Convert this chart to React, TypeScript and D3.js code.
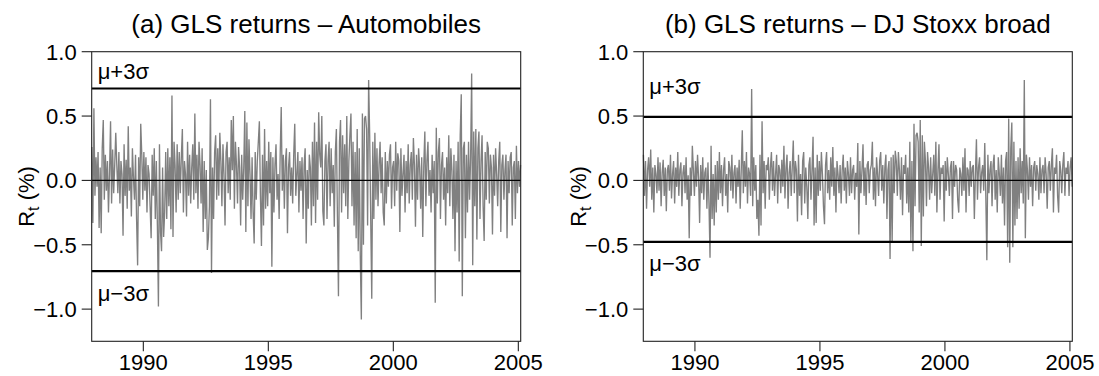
import React from "react";
import * as d3 from "d3";

// GLS returns (%) – Automobiles, semi-monthly readings, one row per year (1988 … 2005)
const autoReturns: number[] = [
  0.26, -0.33, 0.56, -0.12, 0.18, -0.05, 0.22, -0.37, 0.10, -0.41, 0.25, 0.47, -0.15, 0.20, -0.08, 0.15, -0.25, 0.05, 0.46, -0.18, 0.24, -0.10, 0.12, 0.37,
  0.12, -0.10, 0.22, -0.18, 0.15, 0.05, -0.43, 0.28, -0.12, 0.16, -0.22, 0.42, -0.08, 0.10, -0.28, 0.25, 0.02, -0.15, 0.20, -0.30, -0.66, 0.18, -0.20, 0.44,
  0.20, -0.15, 0.22, -0.08, 0.18, -0.25, 0.12, 0.05, -0.20, -0.45, 0.20, -0.12, 0.25, -0.30, 0.15, -0.35, -0.98, 0.28, -0.40, -0.55, 0.10, -0.44, -0.25, 0.22,
  -0.30, 0.25, -0.20, 0.18, -0.38, 0.66, -0.44, 0.30, 0.12, -0.25, 0.28, -0.15, 0.22, -0.10, 0.18, 0.40, -0.25, 0.15, 0.05, -0.28, 0.30, -0.12, 0.20, -0.18,
  0.10, 0.28, -0.15, 0.52, -0.10, 0.20, -0.22, 0.30, 0.12, -0.18, 0.25, -0.40, 0.15, -0.30, 0.08, -0.54, -0.45, -0.20, 0.63, -0.72, 0.10, -0.30, 0.22, 0.35,
  -0.15, 0.25, -0.12, 0.37, 0.15, -0.20, 0.28, 0.05, -0.35, 0.22, 0.30, -0.10, 0.18, -0.15, 0.47, 0.08, 0.50, -0.22, 0.30, 0.12, -0.18, 0.26, 0.10, -0.35,
  0.20, -0.15, 0.10, 0.54, -0.40, 0.45, -0.20, 0.32, 0.05, -0.30, 0.18, -0.25, -0.49, 0.22, -0.15, 0.15, 0.30, 0.46, -0.12, -0.51, 0.20, -0.35, 0.40, -0.22,
  0.15, -0.20, 0.30, -0.10, 0.22, -0.67, 0.18, -0.25, 0.12, 0.28, -0.15, 0.05, -0.30, 0.20, 0.57, -0.08, 0.20, -0.22, 0.15, 0.25, -0.41, 0.10, 0.22, -0.12,
  0.10, -0.18, 0.20, 0.44, -0.12, 0.05, 0.22, -0.25, 0.15, -0.08, 0.18, -0.30, 0.12, 0.25, -0.49, 0.08, -0.22, 0.20, 0.10, -0.35, 0.30, -0.20, 0.45, -0.33,
  0.30, -0.15, 0.53, 0.20, 0.10, 0.50, -0.24, -0.35, 0.15, 0.28, -0.30, 0.15, 0.30, -0.20, 0.25, -0.10, 0.12, -0.36, 0.22, 0.40, -0.28, -0.90, 0.30, 0.47,
  -0.25, 0.35, -0.10, 0.28, -0.20, 0.50, -0.30, 0.15, 0.35, 0.52, -0.20, 0.30, -0.35, 0.22, -0.45, 0.40, -0.55, 0.25, -0.60, -1.08, 0.52, -0.50, 0.48, 0.50,
  0.40, -0.35, 0.78, 0.35, -0.30, -0.92, 0.30, -0.30, 0.37, -0.15, 0.25, -0.20, 0.12, 0.30, -0.10, 0.18, -0.25, -0.35, 0.22, -0.18, 0.15, -0.05, 0.20, 0.28,
  -0.22, 0.10, 0.15, -0.20, 0.30, -0.08, 0.21, 0.15, -0.40, 0.25, -0.12, 0.05, 0.20, -0.25, 0.15, -0.10, 0.28, -0.18, 0.12, 0.22, -0.15, 0.33, 0.12, -0.36,
  0.20, -0.15, 0.25, 0.10, -0.22, 0.18, -0.44, 0.12, 0.38, -0.20, 0.15, 0.30, -0.12, 0.08, -0.25, 0.20, -0.10, 0.15, -0.95, 0.41, -0.18, 0.22, 0.33, -0.30,
  0.12, 0.22, -0.15, 0.10, -0.35, 0.18, -0.10, 0.35, -0.20, 0.25, 0.08, -0.30, 0.20, -0.55, 0.15, -0.25, 0.30, -0.63, 0.35, 0.67, -0.90, 0.25, 0.30, -0.45,
  0.20, -0.25, 0.30, -0.15, 0.18, 0.83, -0.66, 0.38, -0.20, 0.40, -0.46, 0.25, 0.38, -0.30, 0.15, 0.35, -0.20, -0.47, 0.22, -0.15, 0.30, 0.25, -0.18, 0.20,
  0.10, -0.42, 0.20, -0.12, 0.25, 0.05, -0.20, 0.15, 0.30, -0.40, 0.12, 0.20, -0.15, 0.08, 0.20, -0.45, 0.15, -0.10, 0.18, 0.22, -0.35, 0.10, 0.15, -0.30,
  0.27, -0.10, 0.15, -0.05, 0.12,
];

// GLS returns (%) – DJ Stoxx broad
const stoxxReturns: number[] = [
  0.20, -0.12, 0.15, -0.22, 0.08, 0.18, -0.05, 0.24, -0.15, 0.10, -0.25, 0.12, 0.05, -0.10, 0.18, -0.08, 0.14, -0.20, 0.06, 0.16, -0.12, 0.10, -0.24, 0.08,
  0.12, -0.08, 0.20, -0.14, 0.05, 0.15, -0.18, 0.10, -0.05, 0.22, -0.12, 0.08, 0.14, -0.20, 0.06, 0.12, -0.10, 0.18, -0.15, 0.04, -0.45, 0.10, -0.12, 0.27,
  0.08, -0.12, 0.15, -0.05, 0.20, 0.02, -0.33, 0.12, -0.10, 0.18, -0.15, 0.06, 0.10, -0.22, 0.14, -0.18, -0.60, 0.27, -0.30, 0.05, -0.35, 0.12, -0.25, 0.15,
  -0.15, 0.22, -0.10, 0.12, -0.20, 0.08, 0.18, -0.12, 0.05, -0.25, 0.15, 0.10, -0.08, 0.20, -0.14, 0.06, 0.12, -0.18, 0.10, -0.05, 0.16, -0.22, 0.08, 0.39,
  -0.10, 0.15, -0.05, 0.22, -0.18, 0.10, 0.05, -0.12, 0.71, -0.20, 0.18, -0.08, 0.12, -0.30, -0.15, -0.43, 0.20, -0.35, 0.46, -0.10, 0.15, -0.22, 0.12, 0.08,
  0.18, -0.15, 0.10, 0.22, -0.08, 0.15, -0.12, 0.05, 0.20, -0.18, 0.12, 0.08, -0.10, 0.16, -0.05, 0.27, -0.14, 0.10, 0.20, -0.22, 0.06, 0.15, -0.12, 0.10,
  0.31, -0.10, 0.15, 0.08, -0.32, 0.20, -0.12, 0.05, -0.27, 0.15, 0.22, -0.18, 0.10, -0.05, -0.30, 0.12, 0.18, -0.15, 0.08, 0.34, -0.35, 0.10, -0.33, 0.20,
  -0.12, 0.15, -0.08, 0.22, 0.05, -0.20, -0.34, 0.12, 0.22, -0.10, 0.08, -0.15, 0.18, -0.05, 0.26, -0.12, 0.10, -0.25, 0.15, 0.05, -0.10, 0.12, -0.18, 0.08,
  0.20, -0.08, 0.10, -0.18, 0.15, 0.05, -0.12, 0.18, -0.10, 0.08, 0.12, -0.15, 0.06, -0.05, 0.29, -0.42, 0.15, -0.10, 0.08, 0.28, -0.12, 0.10, -0.19, 0.12,
  0.15, -0.10, 0.08, 0.12, 0.30, -0.15, 0.10, -0.20, 0.18, 0.05, -0.12, 0.15, 0.22, -0.08, 0.12, -0.18, 0.10, 0.20, -0.30, 0.08, 0.15, -0.61, 0.18, -0.48,
  0.20, -0.10, 0.23, 0.15, -0.12, 0.22, 0.08, -0.15, 0.18, -0.27, 0.12, 0.05, 0.20, -0.18, 0.10, -0.25, 0.30, -0.48, 0.15, -0.55, 0.44, -0.20, 0.35, 0.37,
  0.30, -0.25, 0.47, -0.51, 0.35, -0.28, 0.30, 0.15, -0.20, 0.22, 0.10, -0.15, 0.18, -0.10, 0.05, 0.20, -0.12, 0.30, -0.25, 0.08, 0.28, -0.15, 0.10, 0.05,
  0.12, -0.32, 0.15, -0.08, 0.18, 0.05, -0.12, 0.10, 0.15, -0.30, 0.15, -0.05, 0.12, 0.08, -0.15, -0.25, 0.10, 0.05, -0.12, 0.18, -0.08, 0.25, -0.25, 0.10,
  0.08, -0.12, 0.15, -0.05, 0.10, 0.12, -0.30, 0.05, 0.32, -0.15, 0.10, 0.18, -0.10, 0.06, 0.12, -0.08, 0.29, -0.12, -0.62, 0.20, -0.10, 0.08, 0.15, -0.20,
  0.12, 0.20, -0.15, 0.08, -0.25, 0.18, 0.05, -0.12, 0.20, -0.18, 0.10, -0.35, 0.15, 0.22, -0.52, 0.48, -0.64, 0.25, 0.45, -0.52, 0.30, -0.35, 0.15, -0.30,
  0.18, -0.22, 0.25, -0.10, 0.15, -0.18, 0.78, -0.45, 0.20, 0.08, -0.15, 0.18, -0.05, 0.12, -0.20, 0.10, 0.15, -0.08, 0.12, 0.05, -0.15, 0.18, -0.10, 0.08,
  0.12, -0.10, 0.18, 0.05, -0.22, 0.10, 0.15, -0.08, 0.12, 0.25, -0.25, 0.10, 0.05, 0.20, -0.12, -0.25, 0.15, 0.08, -0.10, 0.12, 0.22, -0.12, 0.10, 0.05,
  0.15, -0.12, 0.10, 0.18, -0.05,
];

const seriesStart = 1987.94;
const seriesEnd = 2005.09;
const xTickYears = [1990, 1995, 2000, 2005];
const yTickValues = [-1.0, -0.5, 0.0, 0.5, 1.0];
const autoBands = [0.714, -0.705]; // mu + 3 sigma, mu - 3 sigma
const stoxxBands = [0.494, -0.477];
const panelTitles = ["(a) GLS returns \u2013 Automobiles", "(b) GLS returns \u2013 DJ Stoxx broad"];

const W = 1099;
const H = 376;
const TOP = 51.7;
const BOTTOM = 341.3;
const FONT = "'Liberation Sans', Arial, Helvetica, sans-serif";

type PanelSpec = {
  title: string;
  values: number[];
  bands: number[];
  left: number;
  right: number;
  upperLabelValue: number;
  lowerLabelValue: number;
};

const panels: PanelSpec[] = [
  { title: panelTitles[0], values: autoReturns, bands: autoBands, left: 91.7, right: 520.7, upperLabelValue: 0.79, lowerLabelValue: -0.94 },
  { title: panelTitles[1], values: stoxxReturns, bands: stoxxBands, left: 643.3, right: 1072.3, upperLabelValue: 0.67, lowerLabelValue: -0.70 },
];

const fmt = (v: number) => (v < 0 ? "\u2212" : "") + Math.abs(v).toFixed(1);

function Panel({ p }: { p: PanelSpec }) {
  const x = d3.scaleLinear().domain([seriesStart - 0.005, seriesEnd + 0.005]).range([p.left, p.right]);
  const y = d3.scaleLinear().domain([-1.25, 1.0]).range([BOTTOM, TOP]);
  const n = p.values.length;
  const t = d3.range(n).map((i) => seriesStart + (i * (seriesEnd - seriesStart)) / (n - 1));
  const line = d3
    .line<number>()
    .x((_, i) => x(t[i]))
    .y((d) => y(d));
  const cx = (p.left + p.right) / 2;
  const cy = (TOP + BOTTOM) / 2;
  return (
    <g fontFamily={FONT}>
      <text x={cx} y={33} fontSize={26} textAnchor="middle" fill="#000">
        {p.title}
      </text>
      <path d={line(p.values) ?? ""} fill="none" stroke="#808080" strokeWidth={1.35} strokeLinejoin="miter" />
      <line x1={p.left} x2={p.right} y1={y(0)} y2={y(0)} stroke="#000" strokeWidth={1.2} />
      {p.bands.map((b, i) => (
        <line key={i} x1={p.left} x2={p.right} y1={y(b)} y2={y(b)} stroke="#000" strokeWidth={2.2} />
      ))}
      <text x={p.left + 6} y={y(p.upperLabelValue)} fontSize={22} fill="#000">
        {"\u03bc+3\u03c3"}
      </text>
      <text x={p.left + 6} y={y(p.lowerLabelValue)} fontSize={22} fill="#000">
        {"\u03bc\u22123\u03c3"}
      </text>
      <rect x={p.left} y={TOP} width={p.right - p.left} height={BOTTOM - TOP} fill="none" stroke="#222" strokeWidth={1.1} />
      {yTickValues.map((v) => (
        <g key={v}>
          <line x1={p.left - 10} x2={p.left} y1={y(v)} y2={y(v)} stroke="#222" strokeWidth={1.1} />
          <text x={p.left - 15} y={y(v)} dy="0.36em" fontSize={22} textAnchor="end" fill="#000">
            {fmt(v)}
          </text>
        </g>
      ))}
      {xTickYears.map((yr) => (
        <g key={yr}>
          <line x1={x(yr)} x2={x(yr)} y1={BOTTOM} y2={BOTTOM + 10} stroke="#222" strokeWidth={1.1} />
          <text x={x(yr)} y={370} fontSize={22} textAnchor="middle" fill="#000">
            {yr}
          </text>
        </g>
      ))}
      <text transform={`translate(${p.left - 57.3},${cy}) rotate(-90)`} fontSize={22} textAnchor="middle" fill="#000">
        R
        <tspan fontSize={16} dy={5}>t</tspan>
        <tspan dy={-5}>{" (%)"}</tspan>
      </text>
    </g>
  );
}

export default function App() {
  return (
    <div style={{ position: "absolute", left: 0, top: 0, width: W, height: H, background: "#fff" }}>
      <svg width={W} height={H} viewBox={`0 0 ${W} ${H}`} style={{ display: "block" }}>
        <rect width={W} height={H} fill="#fff" />
        {panels.map((p, i) => (
          <Panel key={i} p={p} />
        ))}
      </svg>
    </div>
  );
}
